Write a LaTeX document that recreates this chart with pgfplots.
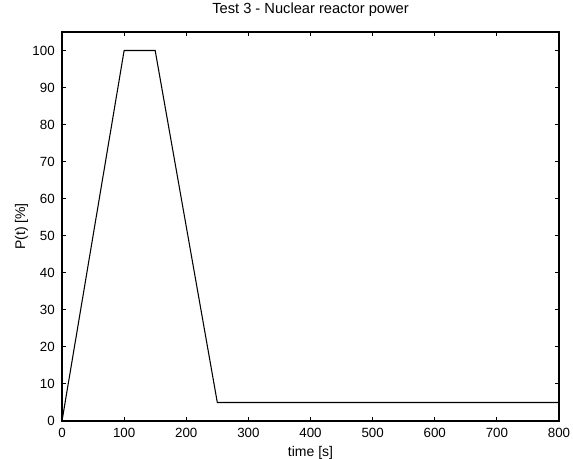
\documentclass[border=0pt]{standalone}
\usepackage{pgfplots}
\pgfplotsset{compat=1.18}
\usepackage{fontspec}
\setmainfont{Liberation Sans}
\begin{document}
\begin{tikzpicture}[x=1pt,y=1pt]
\begin{axis}[
    at={(0,0)}, anchor=south west,
    width=372.75pt, height=291.75pt, scale only axis,
    xmin=0, xmax=800, ymin=0, ymax=105,
    xtick={0,100,...,800}, ytick={0,10,...,100},
    tick align=inside, tick pos=both,
    major tick length=3pt,
    axis line style={line width=0.8pt},
    every tick/.style={black, line width=0.7pt},
    tick label style={font=\fontsize{10}{12}\selectfont, inner sep=0pt},
    xticklabel style={anchor=north, yshift=-5.25pt},
    yticklabel style={anchor=east, xshift=-5.25pt},
    /pgf/number format/assume math mode=true,
    title={Test 3 - Nuclear reactor power},
    title style={font=\fontsize{11}{13}\selectfont, at={(axis description cs:0.5,1.0257)}, anchor=base, inner sep=0pt},
    xlabel={time [s]},
    xlabel style={font=\fontsize{10.5}{12}\selectfont, at={(axis description cs:0.5,-0.09)}, anchor=base, inner sep=0pt},
    ylabel={P(t) [\%]},
    ylabel style={font=\fontsize{10.5}{12}\selectfont, at={(axis description cs:-0.0744,0.5)}, anchor=base, inner sep=0pt},
]
\addplot[black, line width=0.8pt] coordinates {
    (0,0) (100,100) (150,100) (250,5) (800,5)
};
\end{axis}
\useasboundingbox (-46.5,-28.5) rectangle (383.25,315.75);
\end{tikzpicture}
\end{document}
